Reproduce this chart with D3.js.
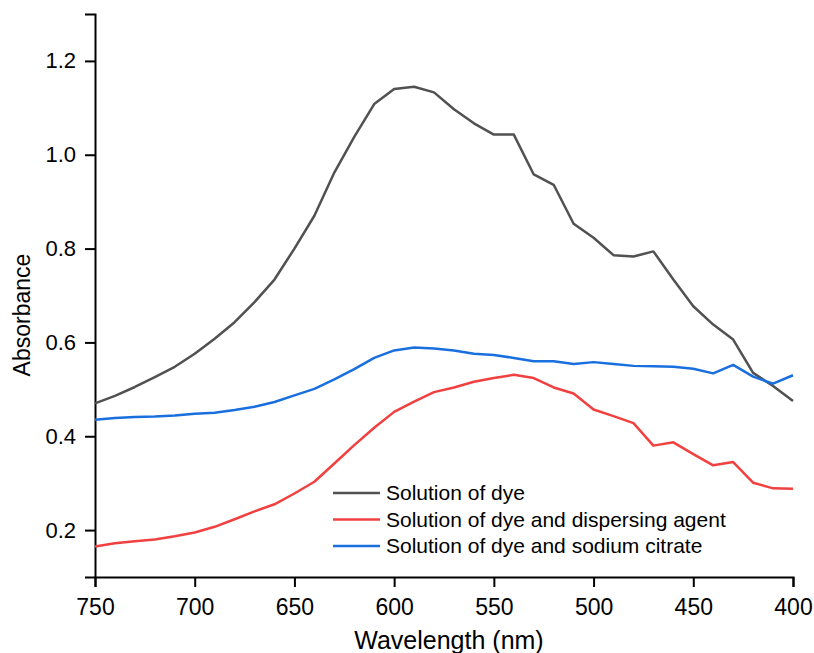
<!DOCTYPE html>
<html>
<head>
<meta charset="utf-8">
<script src="https://cdn.jsdelivr.net/npm/d3@7"></script>
<style>
  body { margin: 0; background: #fff; }
  text { font-family: "Liberation Sans", Arial, sans-serif; }
</style>
</head>
<body>
<div id="chart"></div>
<script>
// wavelengths, 750 -> 400 nm in 10 nm steps
var wavelengths = [750, 740, 730, 720, 710, 700, 690, 680, 670, 660, 650, 640, 630, 620, 610, 600, 590, 580,
  570, 560, 550, 540, 530, 520, 510, 500, 490, 480, 470, 460, 450, 440, 430, 420, 410, 400];

var dye = [0.470, 0.486, 0.505, 0.526, 0.548, 0.576, 0.608, 0.643, 0.686, 0.734, 0.800, 0.870, 0.962, 1.038,
  1.108, 1.140, 1.145, 1.133, 1.097, 1.067, 1.043, 1.043, 0.958, 0.936, 0.853, 0.823, 0.786, 0.783, 0.794,
  0.734, 0.677, 0.638, 0.606, 0.535, 0.507, 0.475];

var dyeDispersing = [0.165, 0.172, 0.176, 0.180, 0.187, 0.195, 0.207, 0.223, 0.240, 0.255, 0.278, 0.303,
  0.342, 0.381, 0.418, 0.452, 0.474, 0.494, 0.504, 0.516, 0.524, 0.531, 0.524, 0.504, 0.491, 0.457, 0.443,
  0.428, 0.380, 0.387, 0.362, 0.338, 0.345, 0.301, 0.289, 0.288];

var dyeCitrate = [0.435, 0.439, 0.441, 0.442, 0.444, 0.448, 0.450, 0.456, 0.463, 0.473, 0.487, 0.501,
  0.521, 0.543, 0.567, 0.583, 0.589, 0.587, 0.583, 0.576, 0.573, 0.567, 0.560, 0.560, 0.554, 0.558, 0.554,
  0.550, 0.549, 0.548, 0.544, 0.534, 0.552, 0.527, 0.512, 0.530];

var seriesNames = ["Solution of dye", "Solution of dye and dispersing agent", "Solution of dye and sodium citrate"];
var seriesColors = ["#515151", "#F14040", "#1A6FDF"];
var xTicks = [750, 700, 650, 600, 550, 500, 450, 400];
var yTicks = [0.2, 0.4, 0.6, 0.8, 1.0, 1.2];

var width = 814, height = 653;
var margin = {top: 14, right: 21, bottom: 76, left: 95};

var svg = d3.select("#chart").append("svg")
  .attr("width", width)
  .attr("height", height);

var x = d3.scaleLinear().domain([750, 400]).range([margin.left, width - margin.right]);
var y = d3.scaleLinear().domain([0.1, 1.3]).range([height - margin.bottom, margin.top]);

// minor ticks first
var xMinor = d3.range(725, 400, -50);
var yMinor = [0.1, 0.3, 0.5, 0.7, 0.9, 1.1, 1.3];

var xAxisG = svg.append("g")
  .attr("transform", "translate(0," + (height - margin.bottom) + ")");
xAxisG.call(d3.axisBottom(x).tickValues(xMinor).tickSize(5).tickFormat(""));
xAxisG.call(d3.axisBottom(x).tickValues(xTicks).tickSize(10).tickPadding(12).tickFormat(d3.format("d")));

var yAxisG = svg.append("g")
  .attr("transform", "translate(" + margin.left + ",0)");
yAxisG.call(d3.axisLeft(y).tickValues(yMinor).tickSize(5).tickFormat(""));
yAxisG.call(d3.axisLeft(y).tickValues(yTicks).tickSize(10).tickPadding(9).tickFormat(d3.format(".1f")));

svg.selectAll(".domain").attr("stroke", "#000").attr("stroke-width", 2);
svg.selectAll(".tick line").attr("stroke", "#000").attr("stroke-width", 2);
svg.selectAll(".tick text").attr("fill", "#000")
  .style("font-family", "'Liberation Sans', Arial, sans-serif");
xAxisG.selectAll(".tick text").style("font-size", "23px");
yAxisG.selectAll(".tick text").style("font-size", "22px");

// axis titles
svg.append("text")
  .attr("x", 449)
  .attr("y", 649)
  .attr("text-anchor", "middle")
  .style("font-size", "25px")
  .text("Wavelength (nm)");

svg.append("text")
  .attr("transform", "translate(30,315) rotate(-90)")
  .attr("text-anchor", "middle")
  .style("font-size", "23px")
  .text("Absorbance");

// lines
var allSeries = [dye, dyeDispersing, dyeCitrate];
var line = d3.line()
  .x(function(d, i) { return x(wavelengths[i]); })
  .y(function(d) { return y(d); });

allSeries.forEach(function(s, i) {
  svg.append("path")
    .datum(s)
    .attr("fill", "none")
    .attr("stroke", seriesColors[i])
    .attr("stroke-width", 2.5)
    .attr("stroke-linejoin", "round")
    .attr("d", line);
});

// legend
var legend = svg.append("g").attr("transform", "translate(333,493)");
seriesNames.forEach(function(name, i) {
  var row = legend.append("g").attr("transform", "translate(0," + (i * 26.5) + ")");
  row.append("line")
    .attr("x1", 0).attr("x2", 47)
    .attr("stroke", seriesColors[i])
    .attr("stroke-width", 2.5);
  row.append("text")
    .attr("x", 53)
    .attr("dy", "0.35em")
    .style("font-size", "21px")
    .text(name);
});
</script>
</body>
</html>
